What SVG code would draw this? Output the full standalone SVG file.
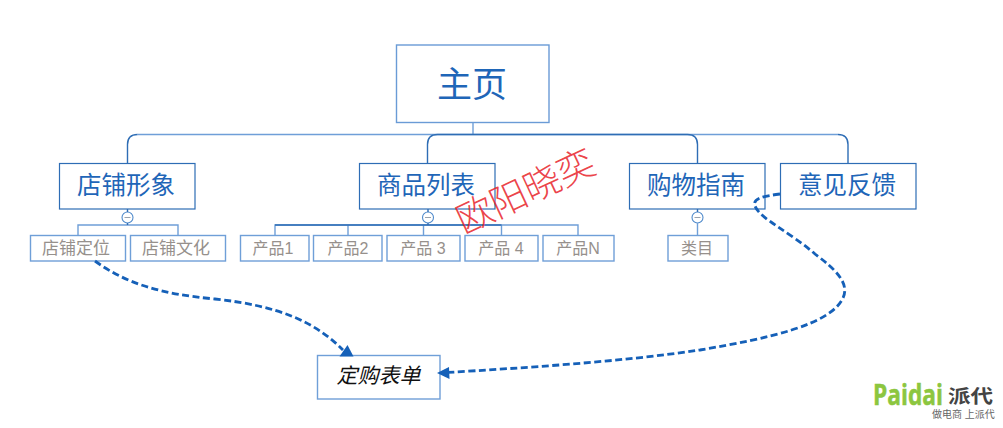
<svg xmlns="http://www.w3.org/2000/svg" width="1003" height="428" viewBox="0 0 1003 428">
<style>
text{font-family:"Liberation Sans","Noto Sans CJK SC",sans-serif;text-anchor:middle}
.top{fill:#fff;stroke:#2e6db5;stroke-width:1.2}
.main{fill:#fff;stroke:#6a9bd6;stroke-width:1.4}
.sub{fill:#fff;stroke:#6f9fd8;stroke-width:1.4}
.t1{font-size:24.500px;fill:#1f66b8}
.t2{font-size:16px;fill:#96908c}
.t3{font-size:17px;fill:#96908c}
.wire{fill:none;stroke:#6f9fd8;stroke-width:1.4}
.wire2{fill:none;stroke:#2e6db5;stroke-width:1.4}
.dash{fill:none;stroke:#1560b8;stroke-width:2.800;stroke-dasharray:7 3.500}
.tog{fill:#fff;stroke:#4f8acb;stroke-width:1.1}
.head{fill:#1560b8}
</style>
<g id="home"><rect class="main" x="396.500" y="45" width="152.500" height="77.500"/><text x="472" y="97" font-size="35px" fill="#1f66b8">主页</text></g>
<g id="shop"><rect class="top" x="59.500" y="163.500" width="135.500" height="45.500"/><text class="t1" x="126" y="194">店铺形象</text></g>
<g id="goods"><rect class="top" x="359.500" y="163.500" width="135.500" height="45.500"/><text class="t1" x="426" y="194">商品列表</text></g>
<g id="guide"><rect class="top" x="629.500" y="163.500" width="135.500" height="45.500"/><text class="t1" x="696" y="194">购物指南</text></g>
<g id="feedback"><rect class="top" x="780.500" y="163.500" width="135.500" height="45.500"/><text class="t1" x="847" y="194">意见反馈</text></g>
<g id="toggle1"><circle class="tog" cx="127.500" cy="217.500" r="5.500"/><path d="M124.500 217.500H130.500" stroke="#9aa3ad"/></g>
<g id="toggle2"><circle class="tog" cx="428" cy="217.500" r="5.500"/><path d="M425 217.500H431" stroke="#9aa3ad"/></g>
<g id="toggle3"><circle class="tog" cx="697.500" cy="217.500" r="5.500"/><path d="M694.500 217.500H700.500" stroke="#9aa3ad"/></g>
<g id="n1"><rect class="sub" x="30.500" y="235.500" width="95" height="25.500"/><text class="t3" x="76" y="253.500">店铺定位</text></g>
<g id="n2"><rect class="sub" x="130.500" y="235.500" width="95" height="25.500"/><text class="t3" x="176" y="253.500">店铺文化</text></g>
<g id="n3"><rect class="sub" x="240.500" y="235.500" width="68.500" height="25.500"/><text class="t2" x="273" y="253.500">产品1</text></g>
<g id="n4"><rect class="sub" x="313.500" y="235.500" width="68.500" height="25.500"/><text class="t2" x="348" y="253.500">产品2</text></g>
<g id="n5"><rect class="sub" x="387" y="235.500" width="73" height="25.500"/><text class="t2" x="423" y="253.500">产品 3</text></g>
<g id="n6"><rect class="sub" x="465" y="235.500" width="73" height="25.500"/><text class="t2" x="501" y="253.500">产品 4</text></g>
<g id="n7"><rect class="sub" x="543" y="235.500" width="71" height="25.500"/><text class="t2" x="578" y="253.500">产品N</text></g>
<g id="n8"><rect class="sub" x="668" y="235.500" width="60" height="25.500"/><text class="t2" x="697" y="253.500">类目</text></g>
<g id="order"><rect class="sub" x="317.500" y="355.500" width="122.500" height="43.500"/><text x="378.500" y="383" font-size="21px" font-style="italic" fill="#111">定购表单</text></g>
<g id="connectors">
<path class="wire" d="M473 122.500V134.500M137.500 134.500H838"/>
<path class="wire2" d="M127.500 163.500V144.500Q127.500 134.500 137.500 134.500M848 163.500V144.500Q848 134.500 838 134.500M427.500 163.500V144.500Q427.500 134.500 437.500 134.500H687.500Q697.500 134.500 697.500 144.500V163.500"/>
<path class="wire" d="M78 235.500V225H178V235.500M275 235.500V225H578V235.500M348 225V235.500M423.500 225V235.500M501.500 225V235.500M697.500 223V235.500"/>
<path class="wire2" d="M127.500 209V212M127.500 223V225M428 209V212M428 223V225M697.500 209V212M275 225H501.500"/>
<path class="dash" d="M95 261C125 283 160 294 215 299C280 306 315 322 343 350"/>
<path class="head" d="M347.500 345L353.500 356.500L339.500 356.500Z"/>
<path class="dash" d="M780 194C765 196 752 198 755 206C760 219 790 232 815 254C835 269 850 283 843 298C830 325 770 338 700 350C620 362 520 368 447 372.500"/>
<path class="head" d="M437 373L449 367L449.500 379Z"/>
</g>
<text transform="translate(531 203) rotate(-25)" font-size="37px" fill="#e8232a" fill-opacity="0.85" font-family="'Noto Sans CJK SC',sans-serif" font-weight="300">欧阳晓奕</text>
<g id="logo">
<text x="873" y="405" font-size="29px" font-weight="700" fill="#8cc63f" stroke="#8cc63f" stroke-width="0.5" style="text-anchor:start;font-family:'Open Sans',sans-serif" textLength="70" lengthAdjust="spacingAndGlyphs">Paidai</text>
<text x="948" y="403" font-size="19px" font-weight="700" fill="#444" style="text-anchor:start" textLength="45" lengthAdjust="spacingAndGlyphs">派代</text>
<text x="932" y="418" font-size="10px" fill="#666" style="text-anchor:start">做电商 上派代</text>
</g>
</svg>
